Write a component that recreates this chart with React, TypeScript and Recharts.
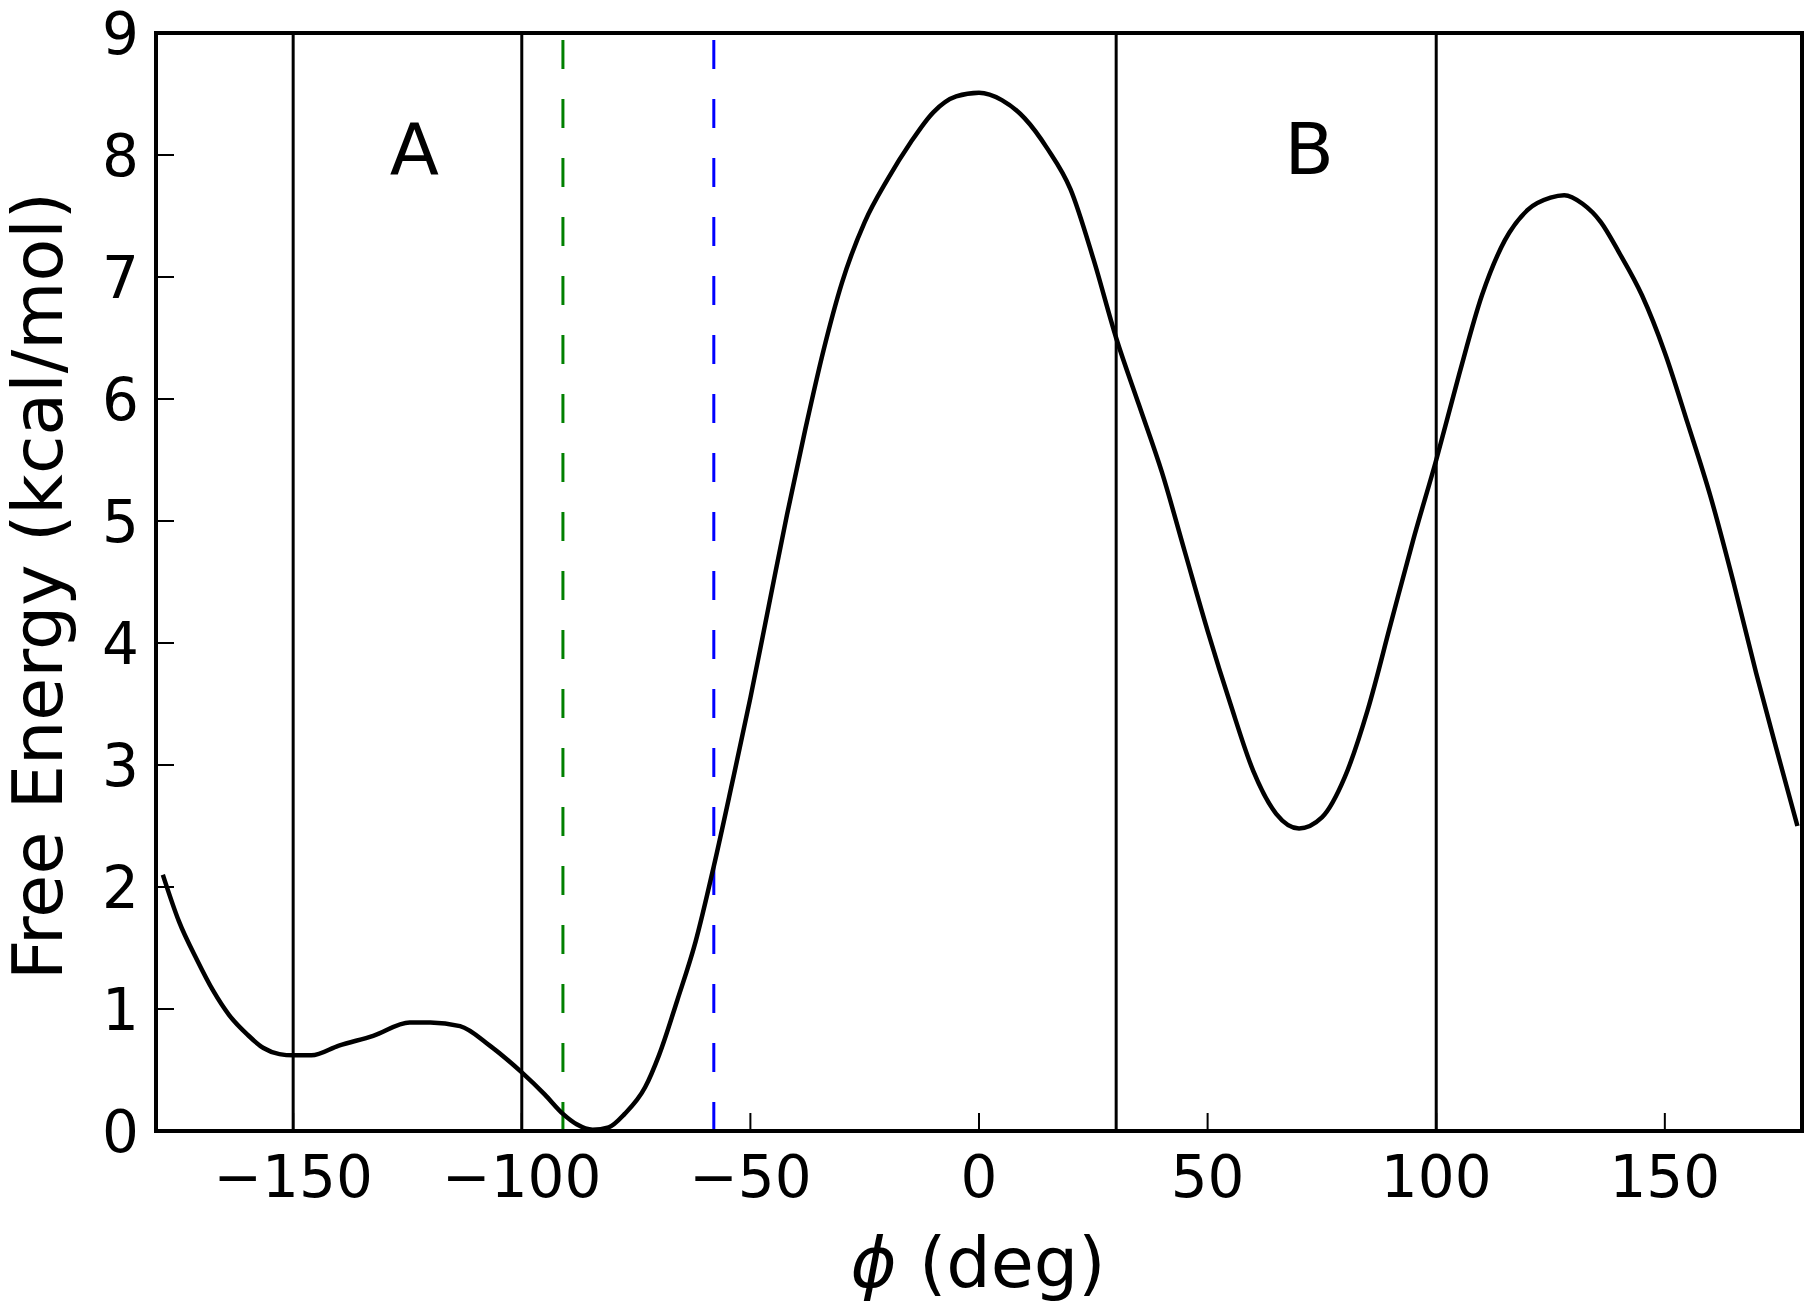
import { LineChart, Line, XAxis, YAxis, ReferenceLine, ReferenceDot } from 'recharts'

// free energy profile along phi (deg)
const phi = [
  -178.5, -175, -171, -167.5, -164, -160, -156.5, -153, -150, -146, -140, -132.5, -124.5, -120, -113.5,
  -107, -100, -95, -91, -88, -84.5, -81, -77.5, -73, -70, -66, -62, -58, -54, -50, -46, -42, -38, -34,
  -30, -25, -20, -15, -10, -5, 0, 5, 10, 15, 20, 25, 30, 35, 40, 45, 50, 55, 60, 65, 70, 75, 80, 85,
  90, 95, 100, 105, 110, 115, 120, 125, 128, 132, 136, 140, 145, 150, 155, 160, 165, 170, 175, 179,
]
const energy = [
  2.1, 1.72, 1.4, 1.15, 0.95, 0.79, 0.68, 0.63, 0.62, 0.62, 0.7, 0.78, 0.89, 0.89, 0.86,
  0.7, 0.48, 0.3, 0.14, 0.055, 0.01, 0.03, 0.14, 0.36, 0.62, 1.07, 1.55, 2.17, 2.85, 3.55, 4.3, 5.05, 5.75, 6.4,
  6.95, 7.45, 7.8, 8.1, 8.35, 8.48, 8.51, 8.45, 8.3, 8.05, 7.72, 7.15, 6.5, 5.95, 5.4, 4.75, 4.1, 3.5, 2.95, 2.6, 2.48, 2.57, 2.9, 3.45,
  4.15, 4.85, 5.5, 6.2, 6.85, 7.3, 7.55, 7.65, 7.67, 7.6, 7.45, 7.2, 6.85, 6.38, 5.8, 5.2, 4.5, 3.75, 3.05, 2.5,
]

const xTicks = [-150, -100, -50, 0, 50, 100, 150]
const yTicks = [0, 1, 2, 3, 4, 5, 6, 7, 8, 9]

// state boundaries (solid) and two marked angles (dashed)
const boundaries = [-150, -100, 30, 100]
const marked = [
  { x: -91, color: '#008000' },
  { x: -58, color: '#0000ff' },
]
const regionLabels = [
  { x: -123.5, y: 8.05, text: 'A' },
  { x: 72.2, y: 8.05, text: 'B' },
]

const data = phi.map((p, i) => ({ phi: p, fe: energy[i] }))

const font = 'DejaVu Sans'
const fmt = (v: number) => (v < 0 ? '\u2212' + Math.abs(v) : String(v))

export default function App() {
  const axisLine = { stroke: '#000', strokeWidth: 4, strokeLinecap: 'square' as const }
  const tickLine = { stroke: '#000', strokeWidth: 2 }
  const tickStyle = { fontSize: 58, fill: '#000', fontFamily: font }

  return (
    <div style={{ width: 1812, height: 1307, background: '#fff' }}>
      <style>{'body{margin:0}'}</style>
      <LineChart width={1812} height={1307} data={data} margin={{ top: 0, right: 0, bottom: 0, left: 0 }}>
        <XAxis xAxisId="b" dataKey="phi" type="number" domain={[-180, 180]} allowDataOverflow ticks={xTicks}
          orientation="bottom" height={176} axisLine={axisLine} tickLine={tickLine} tickSize={-18} tickMargin={43}
          tick={tickStyle} tickFormatter={fmt} interval={0} />
        <XAxis xAxisId="t" type="number" domain={[-180, 180]} allowDataOverflow ticks={xTicks}
          orientation="top" height={33} axisLine={axisLine} tickLine={tickLine} tickSize={-18} tick={false} interval={0} />
        <YAxis yAxisId="l" type="number" domain={[0, 9]} allowDataOverflow ticks={yTicks}
          width={156} axisLine={axisLine} tickLine={tickLine} tickSize={-18} tickMargin={35}
          tick={tickStyle} interval={0} />
        <YAxis yAxisId="r" type="number" domain={[0, 9]} allowDataOverflow ticks={yTicks} orientation="right"
          width={10} axisLine={axisLine} tickLine={tickLine} tickSize={-18} tick={false} interval={0} />

        {boundaries.map((b) => (
          <ReferenceLine key={b} xAxisId="b" yAxisId="l" x={b} stroke="#000" strokeWidth={3} />
        ))}
        {marked.map((m) => (
          <ReferenceLine key={m.x} xAxisId="b" yAxisId="l" x={m.x} stroke={m.color} strokeWidth={3} strokeDasharray="29 30" />
        ))}

        <Line xAxisId="b" yAxisId="l" type="monotone" dataKey="fe" stroke="#000" strokeWidth={4.5} dot={false}
          isAnimationActive={false} />

        {regionLabels.map((r) => (
          <ReferenceDot key={r.text} xAxisId="b" yAxisId="l" x={r.x} y={r.y} r={0} stroke="none" fill="none"
            label={{ value: r.text, position: 'center', fontSize: 72, fill: '#000', fontFamily: font }} />
        ))}

        <text x={978} y={1287} textAnchor="middle" fontSize={70} fontFamily={font} fill="#000">
          <tspan fontStyle="italic">{'\u03d5'}</tspan>
          <tspan>{' (deg)'}</tspan>
        </text>
        <text x={62} y={586} transform="rotate(-90, 62, 586)" textAnchor="middle" fontSize={70} fontFamily={font} fill="#000">
          Free Energy (kcal/mol)
        </text>
      </LineChart>
    </div>
  )
}
